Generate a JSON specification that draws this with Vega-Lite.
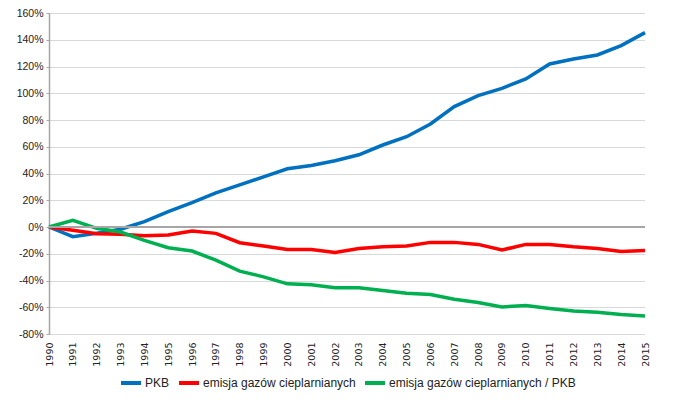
{
  "$schema": "https://vega.github.io/schema/vega-lite/v6.json",
  "width": 596,
  "height": 321,
  "autosize": {"type": "none"},
  "padding": {"left": 49, "top": 13, "right": 35, "bottom": 68},
  "background": "white",
  "config": {
    "view": {"stroke": null},
    "font": "Liberation Sans",
    "axis": {"labelFont": "Liberation Sans", "labelColor": "#222", "labelFontSize": 10}
  },
  "datasets": {
    "d": [
      {"year": 1990, "series": "PKB", "value": 0},
      {"year": 1991, "series": "PKB", "value": -0.072},
      {"year": 1992, "series": "PKB", "value": -0.047},
      {"year": 1993, "series": "PKB", "value": -0.017},
      {"year": 1994, "series": "PKB", "value": 0.04},
      {"year": 1995, "series": "PKB", "value": 0.115},
      {"year": 1996, "series": "PKB", "value": 0.182},
      {"year": 1997, "series": "PKB", "value": 0.255},
      {"year": 1998, "series": "PKB", "value": 0.315},
      {"year": 1999, "series": "PKB", "value": 0.375},
      {"year": 2000, "series": "PKB", "value": 0.435},
      {"year": 2001, "series": "PKB", "value": 0.46},
      {"year": 2002, "series": "PKB", "value": 0.495},
      {"year": 2003, "series": "PKB", "value": 0.54},
      {"year": 2004, "series": "PKB", "value": 0.613},
      {"year": 2005, "series": "PKB", "value": 0.675},
      {"year": 2006, "series": "PKB", "value": 0.77},
      {"year": 2007, "series": "PKB", "value": 0.9},
      {"year": 2008, "series": "PKB", "value": 0.982},
      {"year": 2009, "series": "PKB", "value": 1.037},
      {"year": 2010, "series": "PKB", "value": 1.107},
      {"year": 2011, "series": "PKB", "value": 1.219},
      {"year": 2012, "series": "PKB", "value": 1.256},
      {"year": 2013, "series": "PKB", "value": 1.286},
      {"year": 2014, "series": "PKB", "value": 1.356},
      {"year": 2015, "series": "PKB", "value": 1.453},
      {"year": 1990, "series": "emisja gazów cieplarnianych", "value": 0},
      {"year": 1991, "series": "emisja gazów cieplarnianych", "value": -0.025},
      {"year": 1992, "series": "emisja gazów cieplarnianych", "value": -0.05},
      {"year": 1993, "series": "emisja gazów cieplarnianych", "value": -0.055},
      {"year": 1994, "series": "emisja gazów cieplarnianych", "value": -0.065},
      {"year": 1995, "series": "emisja gazów cieplarnianych", "value": -0.06},
      {"year": 1996, "series": "emisja gazów cieplarnianych", "value": -0.03},
      {"year": 1997, "series": "emisja gazów cieplarnianych", "value": -0.0475},
      {"year": 1998, "series": "emisja gazów cieplarnianych", "value": -0.1175},
      {"year": 1999, "series": "emisja gazów cieplarnianych", "value": -0.1425},
      {"year": 2000, "series": "emisja gazów cieplarnianych", "value": -0.1675},
      {"year": 2001, "series": "emisja gazów cieplarnianych", "value": -0.1675},
      {"year": 2002, "series": "emisja gazów cieplarnianych", "value": -0.19},
      {"year": 2003, "series": "emisja gazów cieplarnianych", "value": -0.16},
      {"year": 2004, "series": "emisja gazów cieplarnianych", "value": -0.1475},
      {"year": 2005, "series": "emisja gazów cieplarnianych", "value": -0.1425},
      {"year": 2006, "series": "emisja gazów cieplarnianych", "value": -0.115},
      {"year": 2007, "series": "emisja gazów cieplarnianych", "value": -0.115},
      {"year": 2008, "series": "emisja gazów cieplarnianych", "value": -0.13},
      {"year": 2009, "series": "emisja gazów cieplarnianych", "value": -0.1725},
      {"year": 2010, "series": "emisja gazów cieplarnianych", "value": -0.13},
      {"year": 2011, "series": "emisja gazów cieplarnianych", "value": -0.13},
      {"year": 2012, "series": "emisja gazów cieplarnianych", "value": -0.1475},
      {"year": 2013, "series": "emisja gazów cieplarnianych", "value": -0.16},
      {"year": 2014, "series": "emisja gazów cieplarnianych", "value": -0.1825},
      {"year": 2015, "series": "emisja gazów cieplarnianych", "value": -0.175},
      {"year": 1990, "series": "emisja gazów cieplarnianych / PKB", "value": 0},
      {"year": 1991, "series": "emisja gazów cieplarnianych / PKB", "value": 0.05},
      {"year": 1992, "series": "emisja gazów cieplarnianych / PKB", "value": -0.01},
      {"year": 1993, "series": "emisja gazów cieplarnianych / PKB", "value": -0.0375},
      {"year": 1994, "series": "emisja gazów cieplarnianych / PKB", "value": -0.1},
      {"year": 1995, "series": "emisja gazów cieplarnianych / PKB", "value": -0.155},
      {"year": 1996, "series": "emisja gazów cieplarnianych / PKB", "value": -0.18},
      {"year": 1997, "series": "emisja gazów cieplarnianych / PKB", "value": -0.2475},
      {"year": 1998, "series": "emisja gazów cieplarnianych / PKB", "value": -0.33},
      {"year": 1999, "series": "emisja gazów cieplarnianych / PKB", "value": -0.3725},
      {"year": 2000, "series": "emisja gazów cieplarnianych / PKB", "value": -0.425},
      {"year": 2001, "series": "emisja gazów cieplarnianych / PKB", "value": -0.4325},
      {"year": 2002, "series": "emisja gazów cieplarnianych / PKB", "value": -0.455},
      {"year": 2003, "series": "emisja gazów cieplarnianych / PKB", "value": -0.455},
      {"year": 2004, "series": "emisja gazów cieplarnianych / PKB", "value": -0.475},
      {"year": 2005, "series": "emisja gazów cieplarnianych / PKB", "value": -0.495},
      {"year": 2006, "series": "emisja gazów cieplarnianych / PKB", "value": -0.505},
      {"year": 2007, "series": "emisja gazów cieplarnianych / PKB", "value": -0.54},
      {"year": 2008, "series": "emisja gazów cieplarnianych / PKB", "value": -0.565},
      {"year": 2009, "series": "emisja gazów cieplarnianych / PKB", "value": -0.5975},
      {"year": 2010, "series": "emisja gazów cieplarnianych / PKB", "value": -0.5875},
      {"year": 2011, "series": "emisja gazów cieplarnianych / PKB", "value": -0.61},
      {"year": 2012, "series": "emisja gazów cieplarnianych / PKB", "value": -0.6275},
      {"year": 2013, "series": "emisja gazów cieplarnianych / PKB", "value": -0.6375},
      {"year": 2014, "series": "emisja gazów cieplarnianych / PKB", "value": -0.655},
      {"year": 2015, "series": "emisja gazów cieplarnianych / PKB", "value": -0.665}
    ],
    "zero": [{"value": 0}]
  },
  "resolve": {"axis": {"y": "independent"}},
  "layer": [
    {
      "data": {"name": "d"},
      "mark": {"type": "line", "strokeWidth": 3.5, "strokeJoin": "miter", "strokeCap": "butt"},
      "encoding": {
        "x": {
          "field": "year", "type": "quantitative",
          "scale": {"domain": [1990, 2015], "nice": false, "zero": false},
          "axis": {
            "title": null, "values": [1990,1991,1992,1993,1994,1995,1996,1997,1998,1999,2000,2001,2002,2003,2004,2005,2006,2007,2008,2009,2010,2011,2012,2013,2014,2015],
            "format": "d", "labelAngle": 270, "labelAlign": "right", "labelBaseline": "middle",
            "labelPadding": 8, "domain": false, "ticks": false, "grid": false,
            "labelFontSize": 9.5, "labelFont": "DejaVu Sans", "labelOverlap": false
          }
        },
        "y": {
          "field": "value", "type": "quantitative",
          "scale": {"domain": [-0.8, 1.6], "nice": false},
          "axis": {
            "title": null, "values": [-0.8,-0.6,-0.4,-0.2,0,0.2,0.4,0.6,0.8,1.0,1.2,1.4,1.6],
            "labelExpr": "round(datum.value * 100) + '%'", "labelOverlap": false,
            "grid": true, "gridColor": "#b0b0b0", "gridDash": [1, 1], "gridWidth": 1,
            "domain": true, "domainColor": "#a6a6a6", "domainWidth": 1.5,
            "ticks": true, "tickSize": 3, "tickColor": "#a6a6a6", "labelPadding": 3, "labelFontSize": 10.5
          }
        },
        "color": {
          "field": "series", "type": "nominal",
          "sort": ["PKB", "emisja gazów cieplarnianych", "emisja gazów cieplarnianych / PKB"],
          "scale": {
            "domain": ["PKB", "emisja gazów cieplarnianych", "emisja gazów cieplarnianych / PKB"],
            "range": ["#0070C0", "#FF0000", "#00B050"]
          },
          "legend": {
            "title": null, "orient": "none", "direction": "horizontal",
            "legendX": 70, "legendY": 358,
            "symbolType": "stroke", "symbolSize": 400, "symbolStrokeWidth": 4,
            "labelFontSize": 12, "labelFont": "Liberation Sans", "labelColor": "#222",
            "labelOffset": 2, "columnPadding": 1, "labelLimit": 400
          }
        }
      }
    },
    {
      "data": {"name": "zero"},
      "mark": {"type": "rule", "color": "#a6a6a6", "strokeWidth": 2},
      "encoding": {
        "y": {"field": "value", "type": "quantitative", "axis": null}
      }
    }
  ]
}
